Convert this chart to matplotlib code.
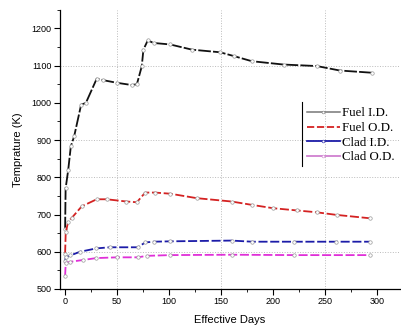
import matplotlib.pyplot as plt
from matplotlib.lines import Line2D
from matplotlib.ticker import MultipleLocator

# =========================
# Data
# =========================
fuel_id_days = [0, 0.5, 3, 5.5, 8.7, 15.4, 20, 30.4, 36.7, 49.7, 64, 69, 73.7,
                75.3, 79.5, 85, 101, 122, 149, 162, 179.5, 210, 242, 264, 295]
fuel_id_temp = [660, 770, 820, 883, 910, 995, 1000, 1065, 1061, 1054, 1048, 1050,
                1098, 1143, 1168, 1161, 1157, 1143, 1136, 1126, 1112, 1103, 1099,
                1087, 1081]

fuel_od_days = [0, 0.6, 3, 6.4, 16, 30.4, 40, 59, 69, 77, 86.5, 101, 126.6, 160,
                179.5, 200, 223, 242, 261, 293]
fuel_od_temp = [595, 652, 681, 691, 722, 741, 741, 735, 733, 759, 759, 756, 744,
                735, 726, 717, 711, 706, 699, 690]

clad_id_days = [0, 0.6, 5, 14.4, 30, 43, 70, 77, 85, 101, 160, 180, 220, 260, 293]
clad_id_temp = [575, 585, 590, 600, 609, 612, 612, 625, 627, 628, 630, 627, 627,
                627, 627]

clad_od_days = [0, 0.6, 5, 17.6, 30, 50, 70, 78.5, 101, 160, 220, 293]
clad_od_temp = [535, 570, 573, 578, 583, 585, 585, 589, 591, 592, 591, 591]

labels = ["Fuel I.D.", "Fuel O.D.", "Clad I.D.", "Clad O.D."]

# =========================
# Figure
# =========================
plt.rcParams["font.family"] = ["Liberation Sans", "DejaVu Sans"]

fig = plt.figure(figsize=(4.02, 3.28), dpi=100)
ax = fig.add_axes([0.149, 0.119, 0.846, 0.851])

series = [
    (fuel_id_days, fuel_id_temp, "#111111", (0, (7, 1.2))),
    (fuel_od_days, fuel_od_temp, "#d42222", (0, (5, 1.5))),
    (clad_id_days, clad_id_temp, "#1c1ca8", (0, (5, 1.5))),
    (clad_od_days, clad_od_temp, "#e030d8", (0, (5, 1.5))),
]

for days, temp, color, ls in series:
    ax.plot(days, temp, color=color, linestyle=ls, linewidth=1.3,
            marker="o", markersize=2.5, markerfacecolor="white",
            markeredgecolor="#999999", markeredgewidth=0.5, zorder=3)

ax.set_xlim(-5, 322)
ax.set_ylim(500, 1250)

ax.xaxis.set_major_locator(MultipleLocator(50))
ax.xaxis.set_minor_locator(MultipleLocator(25))
ax.yaxis.set_major_locator(MultipleLocator(100))
ax.yaxis.set_minor_locator(MultipleLocator(50))
ax.set_yticks(range(500, 1201, 100))

ax.tick_params(which="major", direction="out", length=4, width=0.8,
               labelsize=6.5, pad=2)
ax.tick_params(which="minor", direction="out", length=2, width=0.6)

for s in ["top", "right"]:
    ax.spines[s].set_visible(False)
for s in ["left", "bottom"]:
    ax.spines[s].set_linewidth(0.9)

# dotted grid as in the reference
for gx in [50, 150, 250]:
    ax.axvline(gx, color="#bbbbbb", linestyle=":", linewidth=0.7, zorder=1)
for gy in [600, 800, 900, 1100]:
    ax.axhline(gy, color="#bbbbbb", linestyle=":", linewidth=0.7, zorder=1)

ax.set_xlabel("Effective Days", fontsize=8, labelpad=6)
ax.set_ylabel("Temprature (K)", fontsize=8, labelpad=6)

# legend (proxy handles keep the legend colours of the reference)
handles = [
    Line2D([], [], color="#777777", lw=1.1, marker="o", markersize=2,
           markerfacecolor="white", markeredgewidth=0.4),
    Line2D([], [], color="#d42222", lw=1.3, linestyle=(0, (4, 1.5))),
    Line2D([], [], color="#1c1ca8", lw=1.3, marker="o", markersize=2,
           markerfacecolor="white", markeredgewidth=0.4),
    Line2D([], [], color="#d080d0", lw=1.3, marker="o", markersize=2,
           markerfacecolor="white", markeredgewidth=0.4),
]
ax.legend(handles, labels, loc="upper left", bbox_to_anchor=(0.70, 0.683),
          frameon=False, prop={"family": "Liberation Serif", "size": 9.3},
          handlelength=2.55, handletextpad=0.15, labelspacing=0.2,
          borderpad=0.2)
ax.add_line(Line2D([0.712, 0.712], [0.441, 0.670], transform=ax.transAxes,
                   color="black", lw=0.8))

fig.savefig("out.png", dpi=100)
